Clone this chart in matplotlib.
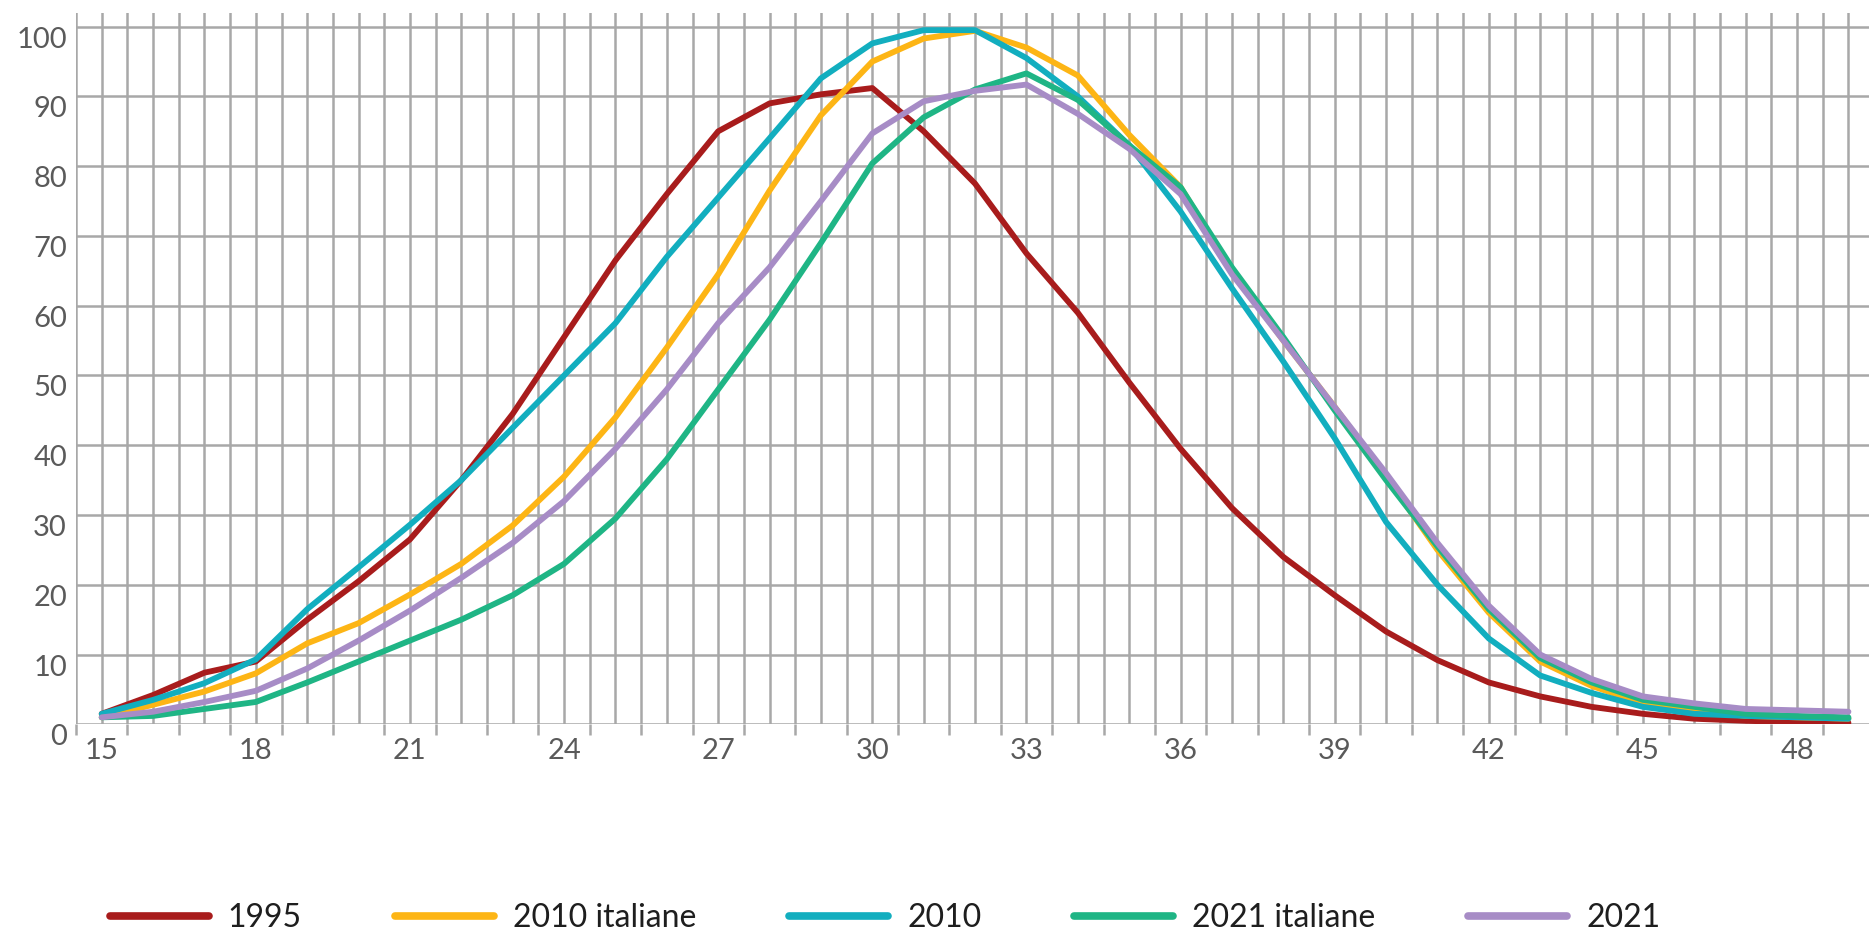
import numpy as np
import matplotlib
matplotlib.use('Agg')
import matplotlib.pyplot as plt
from matplotlib.ticker import FixedLocator

plt.rcParams['font.family'] = ['Lato', 'DejaVu Sans']

# Age (x) and index values per series
ages = list(range(15, 50))

s_1995 = [1.5, 4.2, 7.4, 9.0, 15.0, 20.5, 26.5, 35.0, 44.5, 55.5,
          66.5, 76.0, 85.0, 89.0, 90.3, 91.2, 85.0, 77.5, 67.5, 59.0,
          49.0, 39.5, 31.0, 24.0, 18.5, 13.3, 9.2, 6.0, 4.0, 2.5,
          1.5, 0.8, 0.5, 0.3, 0.2]
s_2010_ita = [1.0, 2.8, 4.7, 7.3, 11.6, 14.5, 18.6, 23.0, 28.5, 35.5,
              44.0, 54.0, 64.5, 76.5, 87.3, 95.0, 98.3, 99.4, 97.0, 93.0,
              84.5, 77.0, 65.0, 55.0, 45.5, 35.5, 25.0, 16.0, 9.0, 5.5,
              3.0, 2.0, 1.2, 1.0, 0.8]
s_2010 = [1.5, 3.5, 5.9, 9.3, 16.5, 22.5, 28.6, 35.0, 42.5, 50.0,
          57.5, 67.0, 75.5, 84.0, 92.6, 97.6, 99.5, 99.5, 95.5, 90.0,
          83.0, 73.5, 62.5, 52.0, 41.0, 29.0, 20.0, 12.3, 7.0, 4.5,
          2.5, 1.5, 1.2, 1.0, 0.8]
s_2021_ita = [1.0, 1.2, 2.2, 3.2, 6.0, 9.0, 12.0, 15.0, 18.5, 23.0,
              29.5, 38.0, 48.0, 58.0, 69.0, 80.4, 87.0, 91.0, 93.3, 89.5,
              83.0, 77.0, 65.5, 55.5, 45.0, 35.0, 25.5, 16.5, 9.5, 6.0,
              3.5, 2.5, 1.5, 1.2, 1.0]
s_2021 = [1.0, 1.8, 3.2, 4.8, 8.0, 12.0, 16.3, 21.0, 26.0, 32.0,
          39.5, 48.0, 57.5, 65.5, 75.0, 84.7, 89.3, 90.8, 91.7, 87.5,
          82.5, 76.0, 64.5, 55.0, 45.5, 36.0, 26.0, 17.0, 10.0, 6.5,
          4.0, 3.0, 2.2, 2.0, 1.8]

labels = ['1995', '2010 italiane', '2010', '2021 italiane', '2021']
colors = ['#a81c1c', '#fdb515', '#12aebf', '#1fb585', '#a78cc6']
series = [s_1995, s_2010_ita, s_2010, s_2021_ita, s_2021]

x_ticks = list(range(15, 50, 3))
y_ticks = list(range(0, 101, 10))

fig = plt.figure(figsize=(18.69, 9.33), dpi=100)
ax = fig.add_axes([76 / 1869, 1 - 724.3 / 933, 1 - 76 / 1869, (724.3 - 12.7) / 933])

ax.set_xlim(14.5, 49.4)
ax.set_ylim(0, 102)

# Grid: vertical every half year, horizontal every 10
grid_col = '#a8a8a8'
for gx in np.arange(14.5, 49.01, 0.5):
    ax.axvline(gx, color=grid_col, lw=1.8, zorder=1)
for gy in y_ticks:
    ax.axhline(gy, color=grid_col, lw=1.8, zorder=1)

for vals, lab, col in zip(series, labels, colors):
    ax.plot(ages, vals, color=col, lw=4.2, label=lab, zorder=3,
            solid_joinstyle='round', solid_capstyle='round')

for sp in ax.spines.values():
    sp.set_visible(False)

ax.xaxis.set_major_locator(FixedLocator(x_ticks))
ax.xaxis.set_minor_locator(FixedLocator(np.arange(14.5, 49, 1.0)))
ax.tick_params(axis='x', which='major', length=0, pad=10, labelsize=21, labelcolor='#5a5a5a')
ax.tick_params(axis='x', which='minor', length=8, width=1.8, color=grid_col)
ax.set_yticks(y_ticks)
ax.tick_params(axis='y', length=0, pad=6.5, labelsize=21, labelcolor='#5a5a5a')
for t in ax.get_yticklabels():
    t.set_va('top')

fig.legend(loc='center', bbox_to_anchor=(885 / 1869, 1 - 918 / 933),
           ncol=5, frameon=False, fontsize=23, handlelength=3.1,
           handletextpad=0.6, columnspacing=2.9, borderpad=0,
           labelcolor='#1e1e1e')
leg = fig.legends[0]
for ln in leg.get_lines():
    ln.set_linewidth(5.5)

fig.savefig('out.png', dpi=100)
